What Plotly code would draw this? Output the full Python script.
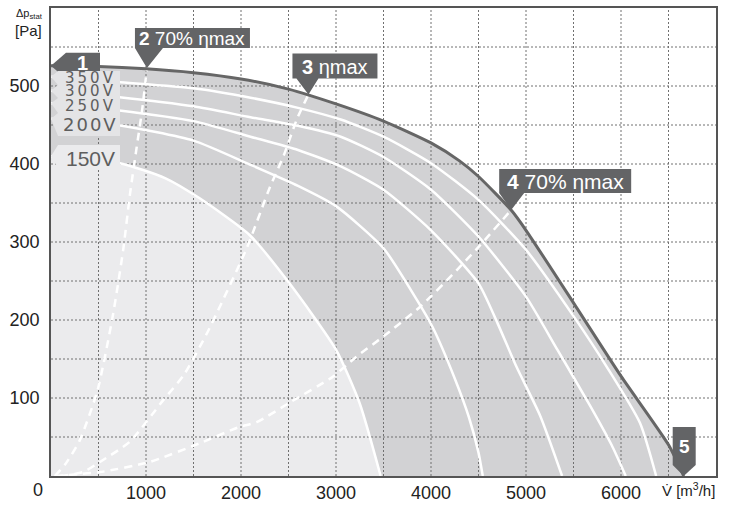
import plotly.graph_objects as go

# ---------------- data ----------------
outer_q = [0, 500, 1000, 1500, 2000, 2500, 3000, 3500, 4000, 4300, 4500, 4850, 5000, 5500, 6000, 6500, 6660]
outer_p = [526, 525, 522, 517, 509, 496, 477, 455, 427, 404, 384, 340, 315, 222, 128, 40, 0]

v350_q = [0, 700, 1500, 2100, 2600, 3050, 3500, 4000, 4500, 5000, 5500, 5850, 6200, 6370]
v350_p = [512, 505, 497, 485, 472, 457, 435, 401, 354, 290, 205, 140, 68, 0]
v300_q = [0, 700, 1500, 2100, 2600, 3050, 3500, 4000, 4500, 5000, 5330, 5680, 5900, 6050]
v300_p = [494, 486, 474, 460, 449, 435, 409, 367, 307, 230, 162, 89, 40, 0]
v250_q = [0, 700, 1500, 2100, 2600, 3050, 3500, 4000, 4500, 4700, 4900, 5150, 5380]
v250_p = [478, 469, 455, 435, 418, 397, 367, 315, 247, 196, 140, 77, 0]
v200_q = [0, 700, 1500, 2100, 2600, 3000, 3500, 3850, 4020, 4250, 4400, 4500, 4545]
v200_p = [458, 450, 430, 399, 372, 346, 292, 226, 190, 125, 75, 30, 0]
v150_q = [0, 725, 1200, 1565, 2090, 2510, 3000, 3250, 3470]
v150_p = [410, 401, 382, 356, 309, 247, 162, 93, 0]

sys2_q = [40, 150, 300, 490, 650, 760, 830, 900, 960, 1010]
sys2_p = [0, 15, 45, 110, 205, 290, 360, 420, 470, 523]
sys3_q = [100, 336, 515, 830, 1180, 1400, 1650, 2060, 2300, 2450, 2590, 2710]
sys3_p = [0, 5, 18, 44, 97, 130, 185, 292, 369, 411, 458, 489]
sys4_q = [40, 515, 1040, 1566, 1986, 2165, 2511, 2963, 3215, 3500, 3886, 4272, 4518, 4844]
sys4_p = [0, 5, 18, 42, 63, 69, 94, 127, 153, 179, 217, 264, 296, 341]

voltage_labels = ["350V", "300V", "250V", "200V", "150V"]
grid_x = list(range(500, 7000, 500))
grid_y = list(range(50, 600, 50))
x_tick_vals = [1000, 2000, 3000, 4000, 5000, 6000]
x_tick_text = ["1000", "2000", "3000", "4000", "5000", "6000"]
y_tick_vals = [100, 200, 300, 400, 500]
y_tick_text = ["100", "200", "300", "400", "500"]

# ---------------- styles ----------------
MID = "#d2d2d4"
LIGHT = "#ebebed"
DARK = "#636466"
FONT = "Liberation Sans"

fig = go.Figure()

fig.add_trace(go.Scatter(x=outer_q, y=outer_p, mode="lines", fill="tozeroy", fillcolor=MID,
                         line=dict(width=0, shape="spline", smoothing=0.6), hoverinfo="skip"))
fig.add_trace(go.Scatter(x=v150_q, y=v150_p, mode="lines", fill="tozeroy", fillcolor=LIGHT,
                         line=dict(width=0, shape="spline", smoothing=0.6), hoverinfo="skip"))

# dotted grid drawn above the fills
gx, gy = [], []
for v in grid_x:
    gx += [v, v, None]
    gy += [0, 600, None]
for v in grid_y:
    gx += [0, 7000, None]
    gy += [v, v, None]
fig.add_trace(go.Scatter(x=gx, y=gy, mode="lines", line=dict(color="#707070", width=1, dash="2px,2px"),
                         hoverinfo="skip"))

for q, p in [(sys2_q, sys2_p), (sys3_q, sys3_p), (sys4_q, sys4_p)]:
    fig.add_trace(go.Scatter(x=q, y=p, mode="lines",
                             line=dict(color="white", width=2.5, dash="8px,6px", shape="spline", smoothing=0.6),
                             hoverinfo="skip"))

curves = [(v350_q, v350_p), (v300_q, v300_p), (v250_q, v250_p), (v200_q, v200_p), (v150_q, v150_p)]
for q, p in curves:
    fig.add_trace(go.Scatter(x=q, y=p, mode="lines",
                             line=dict(color="white", width=2.5, shape="spline", smoothing=0.6),
                             hoverinfo="skip"))

fig.add_trace(go.Scatter(x=outer_q, y=outer_p, mode="lines",
                         line=dict(color="#666666", width=3, shape="spline", smoothing=0.6),
                         hoverinfo="skip"))

shapes = []
annotations = []


def poly(pts):
    return "M" + "L".join(f"{a},{b}" for a, b in pts) + "Z"


def callout(ax, ay, pts, color, text, tdx, tdy, size, tcolor="white"):
    shapes.append(dict(type="path", xref="x", yref="y", xsizemode="pixel", ysizemode="pixel",
                       xanchor=ax, yanchor=ay, path=poly(pts), fillcolor=color,
                       line=dict(width=0), layer="above"))
    annotations.append(dict(x=ax, y=ay, xref="x", yref="y", text=text, showarrow=False,
                            xshift=tdx, yshift=tdy, xanchor="center", yanchor="middle",
                            font=dict(family=FONT, size=size, color=tcolor)))


# numbered callouts
callout(outer_q[0], outer_p[0], [(0, 0), (15, 13), (49, 13), (49, -7), (8, -7)], DARK,
        "<b>1</b>", 31, 3, 20)
callout(sys2_q[-1], sys2_p[-1], [(0, 0), (16, 20), (103, 20), (103, 40), (-12, 40), (-12, 20)], DARK,
        "<b>2</b> 70% ηmax", 45, 30, 19)
callout(sys3_q[-1], sys3_p[-1], [(0, 0), (10, 16), (69, 16), (69, 41), (-16, 41), (-16, 16), (-12, 16)], DARK,
        "<b>3</b> ηmax", 27, 28, 20)
callout(sys4_q[-1], sys4_p[-1], [(0, 0), (13, 17), (120, 17), (120, 41), (-12, 41), (-12, 17)], DARK,
        "<b>4</b> 70% ηmax", 54, 29, 21)
callout(outer_q[-1], 0, [(0, 0), (12, 11), (12, 49), (-11, 49), (-11, 11)], DARK,
        "<b>5</b>", 1, 30, 19)

# voltage labels (box top, box bottom, text dy, size, family, colour, spacing) in pixels relative to curve start
vl_style = [(5.6, -8.4, -1.4, 15, "DejaVu Sans", "#e4e4e6", 3),
            (5.7, -7.3, -0.8, 15, "DejaVu Sans", "#e4e4e6", 3),
            (5.2, -9.8, -2.8, 15, "DejaVu Sans", "#e4e4e6", 3),
            (5.8, -17.2, -5.7, 18, "DejaVu Sans", "#e4e4e6", 2),
            (11.2, -11.8, -1.8, 21, FONT, LIGHT, 0)]
for (q, p), lab, (top, bot, tdy, sz, fam, col, sp) in zip(curves, voltage_labels, vl_style):
    shapes.append(dict(type="path", xref="x", yref="y", xsizemode="pixel", ysizemode="pixel",
                       xanchor=q[0], yanchor=p[0],
                       path=poly([(0, 0), (7, top), (69, top), (69, bot), (7, bot)]),
                       fillcolor=col, line=dict(width=0), layer="above"))
    txt = f'<span style="letter-spacing:{sp}px">{lab}</span>' if sp else lab
    annotations.append(dict(x=q[0], y=p[0], xref="x", yref="y", text=txt, showarrow=False,
                            xshift=39, yshift=tdy, xanchor="center", yanchor="middle",
                            font=dict(family=fam, size=sz, color="#5e5e5e")))

# axis titles and origin label
annotations += [
    dict(x=0, y=1, xref="paper", yref="paper", text="Δp<sub>stat</sub>", showarrow=False,
         xanchor="right", yanchor="middle", xshift=-6, yshift=-6,
         font=dict(family=FONT, size=11, color="#222")),
    dict(x=0, y=1, xref="paper", yref="paper", text="[Pa]", showarrow=False,
         xanchor="right", yanchor="middle", xshift=-7, yshift=-22,
         font=dict(family=FONT, size=15, color="#222")),
    dict(x=1, y=0, xref="paper", yref="paper", text="V̇ [m<sup>3</sup>/h]", showarrow=False,
         xanchor="right", yanchor="middle", xshift=1, yshift=-13,
         font=dict(family=FONT, size=15, color="#222")),
    dict(x=0, y=0, xref="paper", yref="paper", text="0", showarrow=False,
         xanchor="center", yanchor="middle", xshift=-13, yshift=-14,
         font=dict(family=FONT, size=18, color="#222")),
]

fig.update_layout(
    width=743, height=506,
    margin=dict(l=51, r=27, t=8, b=30),
    paper_bgcolor="white", plot_bgcolor="white",
    showlegend=False,
    shapes=shapes, annotations=annotations,
    xaxis=dict(range=[0, 7000], showgrid=False, zeroline=False, tickvals=x_tick_vals, ticktext=x_tick_text,
               showline=True, mirror=True, linecolor="#555", linewidth=1.5, automargin=False,
               tickfont=dict(family=FONT, size=18, color="#222"), ticks=""),
    yaxis=dict(range=[0, 600], showgrid=False, zeroline=False, tickvals=y_tick_vals, ticktext=y_tick_text,
               showline=True, mirror=True, linecolor="#555", linewidth=1.5, automargin=False,
               tickfont=dict(family=FONT, size=18, color="#222"), ticks="", ticklabelstandoff=6),
)

fig.write_html("out.html")
